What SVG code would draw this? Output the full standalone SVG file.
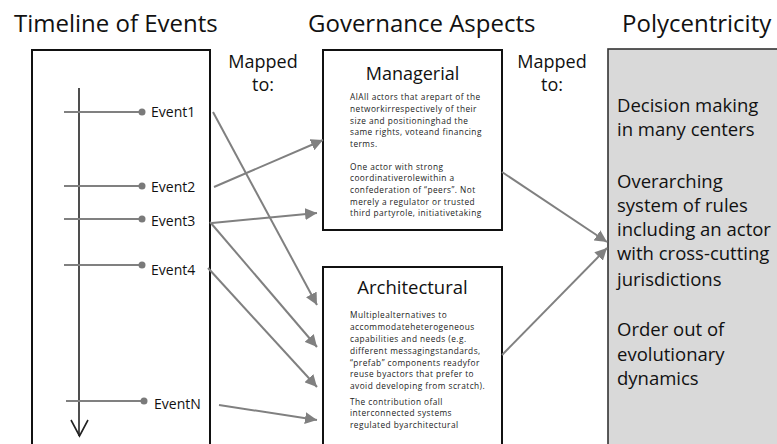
<svg xmlns="http://www.w3.org/2000/svg" width="777" height="444" viewBox="0 0 777 444">
<style>
text{font-family:"Open Sans","Noto Sans","DejaVu Sans",sans-serif;fill:#111;}
.title{font-size:24px;}
.map{font-size:18px;text-anchor:middle;}
.ev{font-size:14px;}
.small{font-size:8.3px;letter-spacing:0.45px;fill:#222;}
.poly{font-size:18.5px;}
.box{fill:#fff;stroke:#111;stroke-width:2;}
.tick{stroke:#808080;stroke-width:2;}
.dot{fill:#7a7a7a;}
.conn{stroke:#808080;stroke-width:2;fill:none;marker-end:url(#ah);}
</style>
<defs>
<marker id="ah" markerUnits="userSpaceOnUse" markerWidth="14" markerHeight="12" refX="12" refY="6" orient="auto">
<path d="M0,0 L12,6 L0,12 Z" fill="#808080"/>
</marker>
</defs>
<rect width="777" height="444" fill="#fff"/>
<g id="titles">
<text class="title" x="14" y="32">Timeline of Events</text>
<text class="title" x="308" y="32">Governance Aspects</text>
<text class="title" x="622" y="32">Polycentricity</text>
<text class="map" x="263" y="68">Mapped</text>
<text class="map" x="263" y="91">to:</text>
<text class="map" x="552" y="68">Mapped</text>
<text class="map" x="552" y="91">to:</text>
</g>
<g id="timeline">
<rect class="box" x="32" y="50" width="178" height="404"/>
<line x1="79" y1="88" x2="79" y2="436" stroke="#222" stroke-width="1.6"/>
<polyline points="71,420 79.5,436 88,420" fill="none" stroke="#222" stroke-width="1.6"/>
</g>
<g id="event1">
<line class="tick" x1="64" y1="112" x2="141" y2="112"/><circle class="dot" cx="142" cy="112" r="3.5"/>
<text class="ev" x="151" y="117">Event1</text>
</g>
<g id="event2">
<line class="tick" x1="64" y1="186" x2="141" y2="186"/><circle class="dot" cx="142" cy="186" r="3.5"/>
<text class="ev" x="151" y="192">Event2</text>
</g>
<g id="event3">
<line class="tick" x1="64" y1="219" x2="141" y2="219"/><circle class="dot" cx="142" cy="219" r="3.5"/>
<text class="ev" x="151" y="226">Event3</text>
</g>
<g id="event4">
<line class="tick" x1="64" y1="265" x2="141" y2="265"/><circle class="dot" cx="142" cy="265" r="3.5"/>
<text class="ev" x="151" y="275">Event4</text>
</g>
<g id="eventN">
<line class="tick" x1="66" y1="401" x2="143" y2="401"/><circle class="dot" cx="144" cy="401" r="3.5"/>
<text class="ev" x="154" y="409">EventN</text>
</g>
<g id="managerial">
<rect class="box" x="323" y="50" width="179" height="180"/>
<text x="412.5" y="80" font-size="18" text-anchor="middle">Managerial</text>
<text class="small" x="350" y="100">AlAll actors that arepart of the</text>
<text class="small" x="350" y="112">networkirrespectively of their</text>
<text class="small" x="350" y="124">size and positioninghad the</text>
<text class="small" x="350" y="135">same rights, voteand financing</text>
<text class="small" x="350" y="147">terms.</text>
<text class="small" x="350" y="170">One actor with strong</text>
<text class="small" x="350" y="181">coordinativerolewithin a</text>
<text class="small" x="350" y="193">confederation of “peers”. Not</text>
<text class="small" x="350" y="205">merely a regulator or trusted</text>
<text class="small" x="350" y="216">third partyrole, initiativetaking</text>
</g>
<g id="architectural">
<rect class="box" x="323" y="267" width="179" height="190"/>
<text x="412.5" y="294" font-size="18.5" text-anchor="middle">Architectural</text>
<text class="small" x="350" y="318">Multiplealternatives to</text>
<text class="small" x="350" y="330">accommodateheterogeneous</text>
<text class="small" x="350" y="342">capabilities and needs (e.g.</text>
<text class="small" x="350" y="354">different messagingstandards,</text>
<text class="small" x="350" y="366">“prefab” components readyfor</text>
<text class="small" x="350" y="377">reuse byactors that prefer to</text>
<text class="small" x="350" y="389">avoid developing from scratch).</text>
<text class="small" x="350" y="405">The contribution ofall</text>
<text class="small" x="350" y="416">interconnected systems</text>
<text class="small" x="350" y="428">regulated byarchitectural</text>
</g>
<g id="polycentricity">
<rect x="608" y="49" width="180" height="410" fill="#d9d9d9" stroke="#333" stroke-width="1.6"/>
<text class="poly" x="617" y="112">Decision making</text>
<text class="poly" x="617" y="136">in many centers</text>
<text class="poly" x="617" y="188">Overarching</text>
<text class="poly" x="617" y="212">system of rules</text>
<text class="poly" x="617" y="236">including an actor</text>
<text class="poly" x="617" y="260">with cross-cutting</text>
<text class="poly" x="617" y="286">jurisdictions</text>
<text class="poly" x="617" y="336">Order out of</text>
<text class="poly" x="617" y="361">evolutionary</text>
<text class="poly" x="617" y="385">dynamics</text>
</g>
<g id="connectors">
<line class="conn" x1="213" y1="112" x2="317" y2="305"/>
<line class="conn" x1="214" y1="187" x2="323" y2="140"/>
<line class="conn" x1="212" y1="223" x2="317" y2="213"/>
<line class="conn" x1="210" y1="222" x2="317" y2="347"/>
<line class="conn" x1="208" y1="268" x2="317" y2="387"/>
<line class="conn" x1="219" y1="405" x2="317" y2="420"/>
<line class="conn" x1="502" y1="172" x2="607" y2="242"/>
<line class="conn" x1="502" y1="355" x2="607" y2="248"/>
</g>
</svg>
